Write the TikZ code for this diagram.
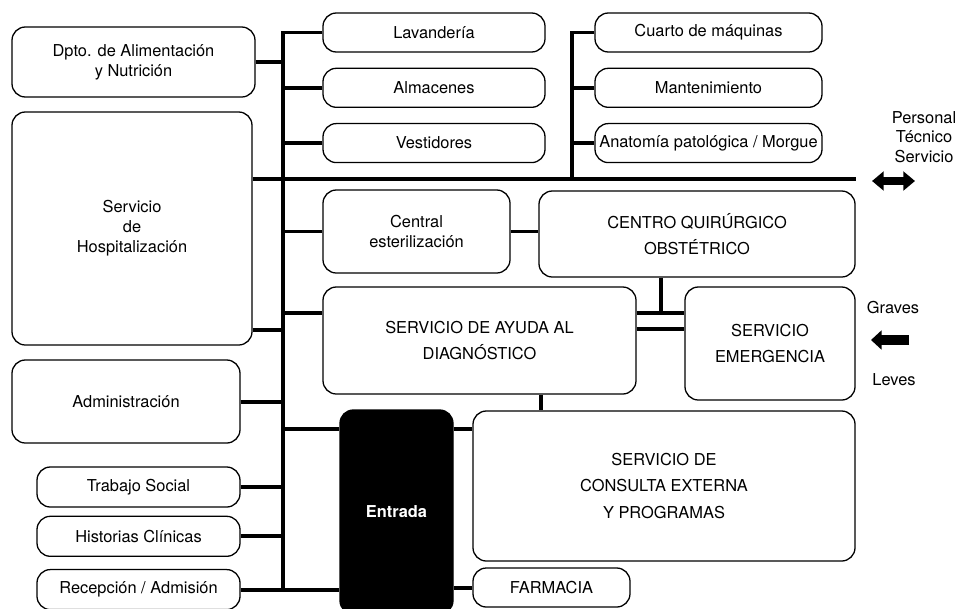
\documentclass[tikz,border=0pt]{standalone}
\usepackage{fontspec}
\setmainfont{TeX Gyre Heros}
\usetikzlibrary{arrows.meta,positioning}

\begin{document}
\begin{tikzpicture}[x=0.3mm, y=-0.3mm, font=\fontsize{14}{17}\selectfont, node distance=4.5mm,
    area/.style={rectangle, rounded corners=4mm, draw, line width=1.1pt, align=center, inner sep=0pt},
    small/.style={area, minimum width=66.6mm, minimum height=11.7mm},
    side/.style={area, minimum width=60.9mm, minimum height=12mm},
    big/.style={area, font=\fontsize{14}{22.5}\selectfont},
    door/.style={area, fill=black, text=white, font=\fontsize{14}{17}\selectfont\bfseries},
    note/.style={align=center, inner sep=0pt, font=\fontsize{14}{16.5}\selectfont},
    link/.style={line width=3.4pt},
    flow/.style={line width=7pt, {Triangle[width=16pt,length=10pt]}-{Triangle[width=16pt,length=10pt]}},
    inflow/.style={line width=9pt, -{Triangle[width=16pt,length=9pt]}}]
  \useasboundingbox (0,0) rectangle (959,608);

  \node[area, minimum width=72.9mm, minimum height=21mm] (alim) at (133.5,62) {Dpto. de Alimentación\\y Nutrición};
  \node[area, minimum width=72mm, minimum height=69.9mm] (hosp) at (132,228.5) {Servicio\\de\\Hospitalización};
  \node[area, minimum width=68.4mm, minimum height=24.9mm] (admin) at (126,401.5) {Administración};
  \node[side] (trab) at (138.5,487) {Trabajo Social};
  \node[side, below=2.4mm of trab] (hist) {Historias Clínicas};
  \node[side, below=3.6mm of hist] (recep) {Recepción / Admisión};

  \node[small] (lav) at (434,32.5) {Lavandería};
  \node[small, below=of lav] (alm) {Almacenes};
  \node[small, below=of alm] (vest) {Vestidores};
  \node[small, minimum width=68.1mm] (cuarto) at (708.5,32.5) {Cuarto de máquinas};
  \node[small, minimum width=68.1mm, below=of cuarto] (mant) {Mantenimiento};
  \node[small, minimum width=68.1mm, below=of mant] (anat) {Anatomía patológica / Morgue};

  \node[area, minimum width=56.1mm, minimum height=24.9mm] (ceye) at (416.5,231.5) {Central\\esterilización};
  \node[big, minimum width=94.8mm, minimum height=25.8mm] (quir) at (697,234) {CENTRO QUIRÚRGICO\\OBSTÉTRICO};
  \node[big, minimum width=93.9mm, minimum height=32.1mm] (ayuda) at (479.5,340.5) {SERVICIO DE AYUDA AL\\DIAGNÓSTICO};
  \node[big, minimum width=51mm, minimum height=33.9mm] (emerg) at (770,343.5) {SERVICIO\\EMERGENCIA};
  \node[door, minimum width=33.9mm, minimum height=61.2mm] (entrada) at (396.5,512) {Entrada};
  \node[big, minimum width=114.6mm, minimum height=45mm] (consulta) at (664,486) {SERVICIO DE\\CONSULTA EXTERNA\\Y PROGRAMAS};
  \node[area, minimum width=47.1mm, minimum height=11.7mm] (farm) at (551.5,587.5) {FARMACIA};

  \node[note] (pers) at (924,137) {Personal\\Técnico\\Servicio};
  \node[note] (graves) at (893,308) {Graves};
  \node[note] (leves) at (894,380) {Leves};

  \coordinate (trunk) at (283,32.5);
  \coordinate (trunk2) at (572,32.5);
  \coordinate (bus) at ([yshift=14.85mm]hosp.east);
  \coordinate (hlow) at ([yshift=-30.45mm]hosp.east);
  \coordinate (diag) at ([yshift=-8.1mm]ayuda.north west);
  \coordinate (diag2) at ([yshift=-12.9mm]ayuda.north east);
  \coordinate (qdrop) at ([xshift=-10.8mm]quir.south);
  \coordinate (adrop) at ([xshift=18.45mm]ayuda.south);
  \coordinate (gate) at ([yshift=-6mm]entrada.north west);

  \draw[link] (lav.west) -- (trunk) -- (trunk |- recep.east);
  \draw[link] (cuarto.west) -- (trunk2) -- (trunk2 |- bus);
  \draw[link] (bus) -- (bus -| quir.east);
  \draw[link] (hlow) -- (hlow -| trunk);
  \foreach \n in {alim, admin, trab, hist}
    \draw[link] (\n.east) -- (\n.east -| trunk);
  \foreach \n in {alm, vest, ceye}
    \draw[link] (\n.west) -- (\n.west -| trunk);
  \foreach \n in {mant, anat}
    \draw[link] (\n.west) -- (\n.west -| trunk2);
  \draw[link] (ceye.east) -- (ceye.east -| quir.west);
  \draw[link] (diag -| trunk) -- (diag);
  \draw[link] (diag -| ayuda.east) -- (diag -| emerg.west);
  \draw[link] (diag2) -- (diag2 -| emerg.west);
  \draw[link] (qdrop) -- (qdrop |- diag);
  \draw[link] (adrop) -- (adrop |- consulta.north);
  \draw[link] (gate -| trunk) -- (gate);
  \draw[link] (gate -| entrada.east) -- (gate -| consulta.west);
  \draw[link] (recep.east) -- (recep.east -| entrada.west);
  \draw[link] (farm.west -| entrada.east) -- (farm.west);

  \coordinate (pl) at (872,181);
  \coordinate (pr) at (915,181);
  \draw[flow] (pl) -- (pr);
  \coordinate (gin) at (909,340);
  \coordinate (gout) at (871,340);
  \draw[inflow] (gin) -- (gout);
\end{tikzpicture}
\end{document}
